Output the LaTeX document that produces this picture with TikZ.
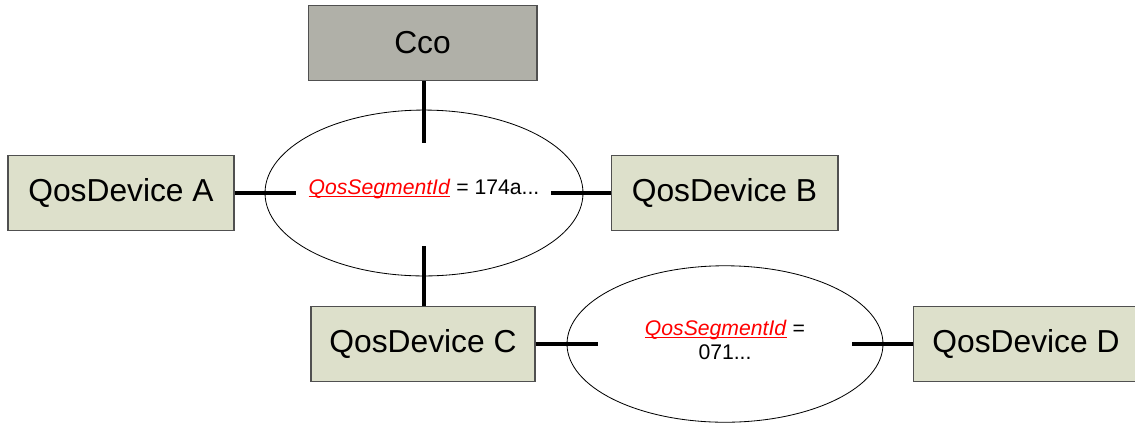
\documentclass[tikz,border=0pt]{standalone}
\usepackage{fontspec}
\setmainfont{Liberation Sans}
\usetikzlibrary{shapes.geometric}
\definecolor{boxfill}{RGB}{221,224,203}
\definecolor{ccofill}{RGB}{176,176,168}
\definecolor{boxline}{RGB}{80,80,80}
\tikzset{
  devbox/.style={draw=boxline, line width=0.9pt, fill=boxfill, minimum height=64pt, inner sep=0pt,
    font=\fontsize{27}{32}\selectfont},
  segell/.style={draw=black, line width=0.7pt, ellipse, inner sep=0pt},
  conn/.style={line width=2.8pt, black},
  segtxt/.style={font=\fontsize{18}{20}\selectfont, align=center, inner sep=0pt}
}
\newcommand{\segid}{\textcolor{red}{\setbox0\hbox{\textit{QosSegmentId}}\rlap{\rule[-1.8pt]{\wd0}{0.9pt}}\box0}}
\begin{document}
\begin{tikzpicture}[x=0.85pt,y=-0.85pt]
\useasboundingbox (0,0) rectangle (1135,427);
\fill[white] (0,0) rectangle (1135,427);
% ellipses
\node[segell, minimum width=270.3pt, minimum height=141pt] (e1) at (424,193) {};
\node[segell, minimum width=268.6pt, minimum height=133pt] (e2) at (725,344) {};
\node[segtxt] (t1) at (424,189) {\segid\ = 174a...};
\node[segtxt] (t2) at (725,340) {\segid\ =\\071...};
% boxes
\node[devbox, minimum width=194.6pt, fill=ccofill] (cco) at (422.5,43) {Cco};
\node[devbox, minimum width=192.1pt] (a) at (121,193) {QosDevice A};
\node[devbox, minimum width=192.9pt] (b) at (724.5,193) {QosDevice B};
\node[devbox, minimum width=190.4pt] (c) at (423,344) {QosDevice C};
\node[devbox, minimum width=192pt] (d) at (1026,344) {QosDevice D};
% connector ends inside ellipses
\coordinate (e1n) at (424,143);
\coordinate (e1w) at (296,193);
\coordinate (e1e) at (551,193);
\coordinate (e1s) at (424,246);
\coordinate (e2w) at (598,344);
\coordinate (e2e) at (852,344);
% connectors
\draw[conn] (cco.south -| e1n) -- (e1n);
\draw[conn] (a.east) -- (e1w);
\draw[conn] (e1e) -- (b.west);
\draw[conn] (e1s) -- (c.north -| e1s);
\draw[conn] (c.east) -- (e2w);
\draw[conn] (e2e) -- (d.west);
\end{tikzpicture}
\end{document}
